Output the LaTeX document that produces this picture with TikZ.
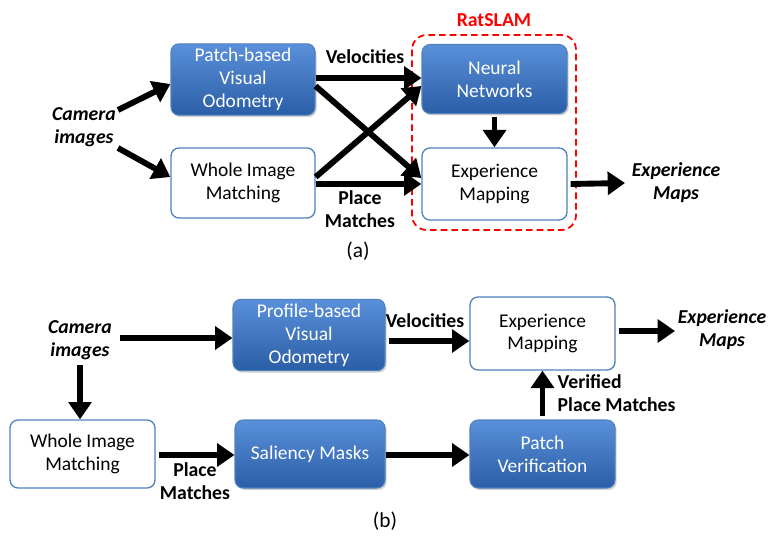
\documentclass[tikz,border=0pt]{standalone}
\usepackage{fontspec}
\setmainfont{Carlito}
\usetikzlibrary{arrows.meta,shadows}
\definecolor{bluebox}{HTML}{3A70BE}
\definecolor{bluetop}{HTML}{5A90DA}
\definecolor{bluebot}{HTML}{2A5EA6}
\definecolor{blueedge}{HTML}{4F81BD}
\definecolor{ratred}{HTML}{FF0000}
\tikzset{
  boxtext/.style={font=\fontsize{14.6}{17.2}\selectfont, align=center},
  bluenode/.style={boxtext, rounded corners=6pt, draw=blueedge, line width=0.8pt,
    top color=bluetop, bottom color=bluebot, text=white,
    drop shadow={opacity=0.35, shadow xshift=1.2pt, shadow yshift=-1.5pt}},
  whitenode/.style={boxtext, rounded corners=6pt, draw=blueedge, line width=1pt, fill=white, text=black},
  lbl/.style={font=\bfseries\fontsize{14.8}{17.2}\selectfont, align=center},
  ilbl/.style={font=\bfseries\itshape\fontsize{14.8}{17.2}\selectfont, align=center},
  bigarrow/.style={line width=4.4pt, -{Triangle[length=13pt,width=17pt]}},
}
\begin{document}
\begin{tikzpicture}[x=0.75pt,y=-0.75pt]
\useasboundingbox (0,0) rectangle (770,541);
% ---------- (a) ----------
\node[bluenode, minimum width=144*0.75pt, minimum height=71*0.75pt] (pvo) at (243,79.5) {Patch-based\\Visual\\Odometry};
\node[whitenode, minimum width=144*0.75pt, minimum height=70*0.75pt] (wima) at (243,183) {Whole Image\\Matching};
\node[bluenode, minimum width=145*0.75pt, minimum height=69*0.75pt] (nn) at (494.5,79) {Neural\\Networks};
\node[whitenode, minimum width=145*0.75pt, minimum height=72*0.75pt] (ema) at (494.5,184) {Experience\\Mapping};
\draw[ratred, line width=1.3pt, dashed, dash pattern=on 5pt off 3pt, rounded corners=11pt] (412,35) rectangle (576,230);
\node[lbl, text=ratred] (rat) at (494,20) {RatSLAM};
\node[ilbl] (cama) at (84,127) {Camera\\images};
\node[lbl] (vela) at (365,57) {Velocities};
\node[lbl] (pma) at (360,209) {Place\\Matches};
\node[ilbl] (expa) at (676,183) {Experience\\Maps};
\node[boxtext, font=\fontsize{16}{19}\selectfont] (la) at (358,251) {(a)};
\coordinate (ca1) at (118,110);
\coordinate (ca2) at (118,148);
\draw[bigarrow] (ca1) -- (pvo.west |- 0,84);
\draw[bigarrow] (ca2) -- (wima.west |- 0,177);
\draw[bigarrow] (pvo.east |- 0,78) -- (nn.west |- 0,78);
\draw[bigarrow] (pvo.east |- 0,86) -- (ema.west |- 0,178);
\draw[bigarrow] (wima.east |- 0,177) -- (nn.west |- 0,86);
\draw[bigarrow] (wima.east |- 0,184) -- (ema.west |- 0,184);
\draw[bigarrow] (nn.south) ++(0,3) coordinate (nns) (nns) -- (ema.north);
\draw[bigarrow] (ema.east) ++(3,0) coordinate (emae) (emae) -- (625,183) coordinate (expaw);
% ---------- (b) ----------
\node[bluenode, minimum width=152*0.75pt, minimum height=70*0.75pt] (pbvo) at (309,335) {Profile-based\\Visual\\Odometry};
\node[whitenode, minimum width=145*0.75pt, minimum height=73*0.75pt] (emb) at (542.5,333.5) {Experience\\Mapping};
\node[whitenode, minimum width=145*0.75pt, minimum height=68*0.75pt] (wimb) at (82.5,454) {Whole Image\\Matching};
\node[bluenode, minimum width=150*0.75pt, minimum height=68*0.75pt] (sal) at (310,454) {Saliency Masks};
\node[bluenode, minimum width=145*0.75pt, minimum height=68*0.75pt] (pv) at (542.5,454) {Patch\\Verification};
\node[ilbl] (camb) at (80,340) {Camera\\images};
\node[lbl] (velb) at (425,321) {Velocities};
\node[ilbl] (expb) at (722,330) {Experience\\Maps};
\node[lbl] (pmb) at (195,481) {Place\\Matches};
\node[lbl, align=left, anchor=west] (vpm) at (553,393) {Verified\\Place Matches};
\node[boxtext, font=\fontsize{16}{19}\selectfont] (lb) at (385,521) {(b)};
\coordinate (cb1) at (120,338);
\coordinate (cb2) at (80,365);
\draw[bigarrow] (cb1) -- (pbvo.west |- 0,338);
\draw[bigarrow] (cb2) -- (wimb.north -| 80,0);
\draw[bigarrow] (pbvo.east |- 0,341) ++(3,0) coordinate (pbe) (pbe) -- (emb.west |- 0,341);
\draw[bigarrow] (emb.east |- 0,331) ++(3,0) coordinate (embe) (embe) -- (675,331);
\draw[bigarrow] (wimb.east |- 0,455) ++(3,0) coordinate (wbe) (wbe) -- (sal.west |- 0,455);
\draw[bigarrow] (sal.east |- 0,455) -- (pv.west |- 0,455);
\draw[bigarrow] (pv.north) ++(0,-3) coordinate (pvn) (pvn) -- (emb.south);
\end{tikzpicture}
\end{document}
